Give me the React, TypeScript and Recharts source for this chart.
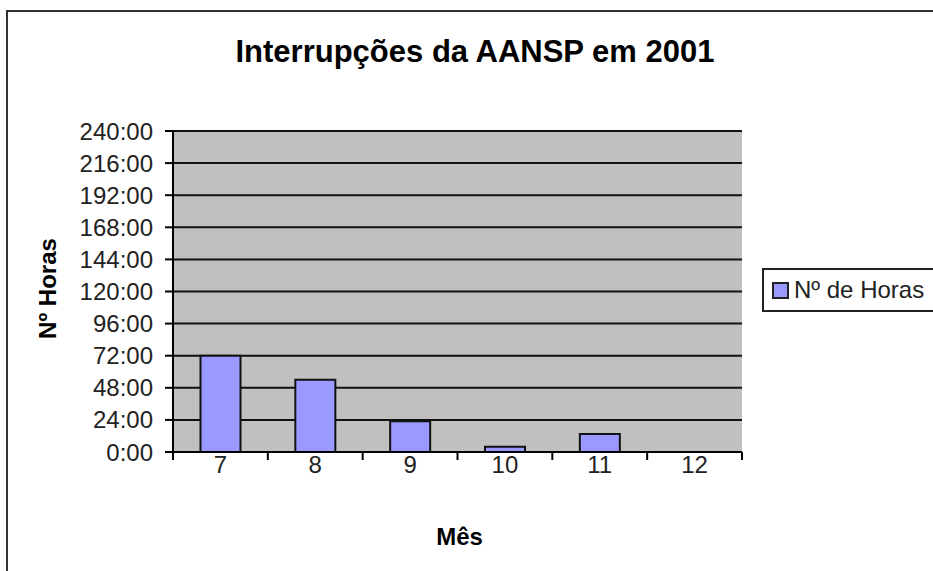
import React from "react";
import {
  BarChart,
  Bar,
  XAxis,
  YAxis,
  CartesianGrid,
  Legend,
} from "recharts";

const months = ["7", "8", "9", "10", "11", "12"];
const hours = [72, 54, 23, 4, 13.5, 0];
const yTicks = [0, 24, 48, 72, 96, 120, 144, 168, 192, 216, 240];

const data = months.map((m, i) => ({ mes: m, horas: hours[i] }));

const FONT = "Arial, 'Liberation Sans', sans-serif";
const TICK_SIZE = 8;
const TICK_MARGIN = 0;

function MonthTick(props: any) {
  const { x, y, payload, index, width, visibleTicksCount } = props;
  const band = width / visibleTicksCount;
  const axisY = y - TICK_SIZE - TICK_MARGIN;
  return (
    <g>
      <line x1={x - band / 2} x2={x - band / 2} y1={axisY} y2={axisY + TICK_SIZE} stroke="#000" strokeWidth={2} />
      {index === visibleTicksCount - 1 && (
        <line x1={x + band / 2} x2={x + band / 2} y1={axisY} y2={axisY + TICK_SIZE} stroke="#000" strokeWidth={2} />
      )}
      <text x={x} y={axisY + 4} dy="0.72em" textAnchor="middle" fill="#222" fontSize={24} fontFamily={FONT}>
        {payload.value}
      </text>
    </g>
  );
}

function YTitle(props: any) {
  const { x, y, height } = props.viewBox;
  const cx = x + 56;
  const cy = y + height / 2 - 3;
  return (
    <text x={cx} y={cy} transform={`rotate(-90, ${cx}, ${cy})`} textAnchor="middle" fontSize={24} fontWeight="bold" fontFamily={FONT} fill="#000">
      Nº Horas
    </text>
  );
}

function XTitle(props: any) {
  const { x, y, width } = props.viewBox;
  return (
    <text x={x + width / 2 + 2} y={y + 93} textAnchor="middle" fontSize={24} fontWeight="bold" fontFamily={FONT} fill="#000">
      Mês
    </text>
  );
}

function LegendBox(props: any) {
  const items = props.payload || [];
  return (
    <div style={{ border: "2px solid #222", background: "#fff", width: 200, height: 44, boxSizing: "border-box", display: "flex", alignItems: "center", paddingLeft: 8, fontFamily: FONT, fontSize: 24, color: "#222" }}>
      {items.map((it: any) => (
        <span key={it.value} style={{ display: "flex", alignItems: "center" }}>
          <span style={{ width: 13, height: 13, background: "#9999ff", border: "2px solid #222", marginRight: 5, display: "inline-block" }} />
          {it.value}
        </span>
      ))}
    </div>
  );
}

export default function App() {
  return (
    <div style={{ position: "absolute", left: 0, top: 0, width: 933, height: 571, overflow: "hidden", background: "#fff" }}>
      <div style={{ position: "absolute", left: 6, top: 10, width: 1000, height: 700, borderLeft: "2px solid #333", borderTop: "2px solid #333" }} />
      <div style={{ position: "absolute", left: 0, top: 37, width: 950, textAlign: "center", fontFamily: FONT, fontSize: 31, fontWeight: "bold", lineHeight: "30px", color: "#000" }}>
        Interrupções da AANSP em 2001
      </div>
      <div style={{ position: "absolute", left: 0, top: 0 }}>
        <BarChart width={933} height={571} data={data} margin={{ top: 131, right: 191, bottom: 0, left: 0 }} barCategoryGap="29%">
          <CartesianGrid fill="#c0c0c0" stroke="#111" strokeWidth={2} vertical={false} />
          <XAxis
            dataKey="mes"
            height={119}
            axisLine={{ stroke: "#000", strokeWidth: 2 }}
            tickLine={false}
            tickSize={TICK_SIZE}
            tickMargin={TICK_MARGIN}
            tick={<MonthTick />}
            interval={0}
            label={<XTitle />}
          />
          <YAxis
            width={173}
            domain={[0, 240]}
            ticks={yTicks}
            interval={0}
            tickFormatter={(v: number) => `${v}:00`}
            axisLine={{ stroke: "#000", strokeWidth: 2 }}
            tickLine={{ stroke: "#000", strokeWidth: 2 }}
            tickSize={TICK_SIZE}
            tickMargin={12}
            tick={{ fill: "#222", fontSize: 24, fontFamily: FONT }}
            label={<YTitle />}
          />
          <Legend
            layout="horizontal"
            align="center"
            verticalAlign="middle"
            content={<LegendBox />}
            wrapperStyle={{ position: "absolute", left: 762, top: 268, width: 200 }}
          />
          <Bar dataKey="horas" name="Nº de Horas" fill="#9999ff" stroke="#111" strokeWidth={2} isAnimationActive={false} />
        </BarChart>
      </div>
    </div>
  );
}
